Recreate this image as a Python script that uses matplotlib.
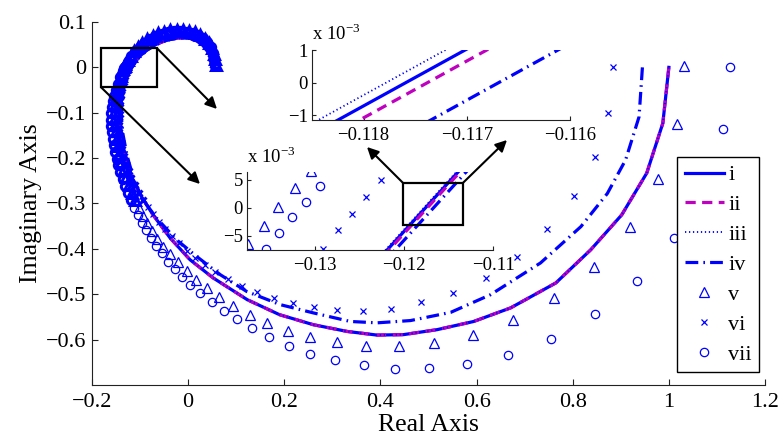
import matplotlib
matplotlib.use('Agg')
import matplotlib.pyplot as plt
from matplotlib.patches import Rectangle

plt.rcParams['font.family'] = ['Liberation Serif', 'DejaVu Serif']
plt.rcParams['mathtext.fontset'] = 'custom'
plt.rcParams['mathtext.rm'] = 'Liberation Serif'
plt.rcParams['axes.unicode_minus'] = True

BLUE = '#0000FF'
MAG = '#C000C0'

labels = ['i', 'ii', 'iii', 'iv', 'v', 'vi', 'vii']

# ---------------- data ----------------
i_x = [1.000, 0.9875, 0.954, 0.902, 0.8375, 0.765, 0.671, 0.594, 0.518, 0.448, 0.393, 0.331, 0.260, 0.190,
       0.123, 0.052, 0.004, -0.0375, -0.073, -0.100, -0.118, -0.133, -0.140, -0.145, -0.138, -0.130,
       -0.12217, -0.11759, -0.11358, -0.103, -0.088, -0.068, -0.045, -0.020, 0.004, 0.024, 0.039, 0.047, 0.049]
i_y = [0.000, -0.123, -0.233, -0.325, -0.402, -0.475, -0.530, -0.560, -0.578, -0.589, -0.590, -0.582, -0.567, -0.545,
       -0.512, -0.464, -0.424, -0.376, -0.325, -0.280, -0.240, -0.185, -0.140, -0.095, -0.050, -0.028,
       -0.008, 0.000, 0.007, 0.022, 0.037, 0.050, 0.060, 0.065, 0.064, 0.056, 0.040, 0.021, 0.002]

ii_x = [1.000, 0.9875, 0.954, 0.902, 0.8375, 0.765, 0.671, 0.594, 0.518, 0.448, 0.393, 0.331, 0.260, 0.190,
        0.123, 0.052, 0.004, -0.0375, -0.073, -0.100, -0.118, -0.133, -0.140, -0.145, -0.138, -0.130,
        -0.12196, -0.11738, -0.11337, -0.103, -0.088, -0.068, -0.045, -0.020, 0.004, 0.024, 0.039, 0.047, 0.049]
ii_y = i_y

iii_x = [1.000, 0.9875, 0.954, 0.902, 0.8375, 0.765, 0.671, 0.594, 0.518, 0.448, 0.393, 0.331, 0.260, 0.190,
         0.123, 0.052, 0.004, -0.0375, -0.073, -0.100, -0.118, -0.133, -0.140, -0.145, -0.138, -0.130,
         -0.12236, -0.11778, -0.11377, -0.103, -0.088, -0.068, -0.045, -0.020, 0.004, 0.024, 0.039, 0.047, 0.049]
iii_y = i_y

iv_x = [0.945, 0.938, 0.910, 0.872, 0.817, 0.733, 0.629, 0.546, 0.4625, 0.393, 0.3375, 0.260, 0.192, 0.122,
        0.067, 0.018, -0.024, -0.065, -0.094, -0.112, -0.127, -0.136, -0.140, -0.135, -0.128,
        -0.12127, -0.11669, -0.11268, -0.102, -0.087, -0.067, -0.044, -0.019, 0.005, 0.025, 0.040, 0.048, 0.050]
iv_y = [0.000, -0.109, -0.204, -0.278, -0.351, -0.431, -0.501, -0.540, -0.558, -0.563, -0.560, -0.541, -0.523, -0.494,
        -0.457, -0.417, -0.380, -0.333, -0.292, -0.250, -0.195, -0.145, -0.095, -0.050, -0.027,
        -0.008, 0.000, 0.007, 0.022, 0.037, 0.050, 0.060, 0.065, 0.064, 0.056, 0.040, 0.021, 0.002]

v_pts = [(1.032, 0.004), (1.017, -0.124), (0.978, -0.245), (0.919, -0.351), (0.844, -0.439), (0.761, -0.508),
         (0.676, -0.556), (0.592, -0.589), (0.511, -0.607), (0.438, -0.615), (0.369, -0.615), (0.310, -0.606),
         (0.254, -0.594), (0.208, -0.580), (0.164, -0.564), (0.128, -0.545), (0.094, -0.525), (0.065, -0.506),
         (0.039, -0.486), (0.017, -0.468), (-0.003, -0.448), (-0.022, -0.430),
         (-0.038, -0.412), (-0.052, -0.395), (-0.064, -0.378), (-0.075, -0.361), (-0.085, -0.344), (-0.094, -0.327),
         (-0.102, -0.310), (-0.110, -0.293), (-0.117, -0.276), (-0.123, -0.259), (-0.129, -0.242), (-0.134, -0.225),
         (-0.139, -0.208), (-0.143, -0.191), (-0.146, -0.174), (-0.149, -0.157), (-0.151, -0.141), (-0.152, -0.126),
         (-0.153, -0.111), (-0.153, -0.096), (-0.152, -0.082), (-0.151, -0.068), (-0.149, -0.055), (-0.146, -0.042),
         (-0.143, -0.030), (-0.140, -0.018), (-0.1375, -0.0064), (-0.1357, -0.0032), (-0.1341, 0.0002),
         (-0.1322, 0.0035), (-0.1304, 0.0065), (-0.125, 0.016), (-0.119, 0.026), (-0.112, 0.036), (-0.104, 0.045),
         (-0.095, 0.054), (-0.085, 0.062), (-0.074, 0.069), (-0.062, 0.075), (-0.050, 0.079), (-0.037, 0.082),
         (-0.024, 0.083), (-0.011, 0.083), (0.002, 0.081), (0.014, 0.077), (0.025, 0.071), (0.035, 0.063),
         (0.043, 0.053), (0.049, 0.042), (0.053, 0.030), (0.056, 0.018), (0.057, 0.006)]

vi_pts = [(0.883, 0.000), (0.874, -0.100), (0.846, -0.197), (0.803, -0.283), (0.747, -0.357), (0.685, -0.417),
          (0.619, -0.464), (0.551, -0.497), (0.485, -0.518), (0.423, -0.532), (0.364, -0.536), (0.310, -0.534),
          (0.261, -0.528), (0.218, -0.519), (0.178, -0.509), (0.143, -0.495), (0.112, -0.481), (0.083, -0.467),
          (0.056, -0.452), (0.035, -0.435), (0.015, -0.420), (-0.003, -0.404),
          (-0.019, -0.388), (-0.034, -0.372), (-0.048, -0.356), (-0.061, -0.340), (-0.073, -0.324), (-0.084, -0.308),
          (-0.094, -0.292), (-0.103, -0.276), (-0.111, -0.260), (-0.118, -0.244), (-0.124, -0.228), (-0.129, -0.212),
          (-0.133, -0.196), (-0.137, -0.180), (-0.140, -0.164), (-0.142, -0.148), (-0.143, -0.133), (-0.143, -0.118),
          (-0.142, -0.103), (-0.142, -0.088), (-0.141, -0.074), (-0.139, -0.060), (-0.137, -0.046), (-0.134, -0.032),
          (-0.131, -0.018), (-0.1291, -0.00725), (-0.1274, -0.0040), (-0.1258, -0.0010), (-0.1242, 0.0020),
          (-0.1226, 0.0049), (-0.117, 0.015), (-0.109, 0.027), (-0.099, 0.038), (-0.087, 0.048), (-0.074, 0.056),
          (-0.060, 0.063), (-0.045, 0.068), (-0.030, 0.071), (-0.015, 0.072), (0.000, 0.071), (0.013, 0.067),
          (0.025, 0.061), (0.035, 0.052), (0.042, 0.042), (0.047, 0.030), (0.050, 0.018), (0.051, 0.006)]

vii_pts = [(1.128, 0.000), (1.113, -0.136), (1.070, -0.258), (1.011, -0.376), (0.933, -0.470), (0.846, -0.544),
           (0.754, -0.598), (0.666, -0.633), (0.581, -0.653), (0.502, -0.662), (0.430, -0.664), (0.365, -0.657),
           (0.306, -0.646), (0.254, -0.631), (0.209, -0.613), (0.169, -0.594), (0.133, -0.574), (0.101, -0.555),
           (0.074, -0.536), (0.049, -0.516), (0.025, -0.497), (0.004, -0.479), (-0.013, -0.461), (-0.027, -0.445),
           (-0.041, -0.428), (-0.055, -0.410),
           (-0.067, -0.393), (-0.078, -0.376), (-0.088, -0.359), (-0.097, -0.342), (-0.105, -0.325), (-0.112, -0.309),
           (-0.119, -0.293), (-0.125, -0.277), (-0.131, -0.261), (-0.136, -0.246), (-0.141, -0.231), (-0.145, -0.216),
           (-0.149, -0.201), (-0.152, -0.186), (-0.155, -0.171), (-0.157, -0.157), (-0.159, -0.143), (-0.160, -0.129),
           (-0.160, -0.115), (-0.160, -0.101), (-0.159, -0.088), (-0.157, -0.075), (-0.154, -0.062), (-0.150, -0.049),
           (-0.146, -0.036), (-0.141, -0.022), (-0.1355, -0.0074), (-0.1340, -0.0044), (-0.1325, -0.0017),
           (-0.1310, 0.0011), (-0.1294, 0.0039), (-0.125, 0.012), (-0.118, 0.024), (-0.110, 0.035), (-0.101, 0.045),
           (-0.091, 0.054), (-0.080, 0.062), (-0.068, 0.069), (-0.055, 0.074), (-0.042, 0.078), (-0.029, 0.080),
           (-0.016, 0.080), (-0.003, 0.079), (0.010, 0.076), (0.021, 0.071), (0.031, 0.064), (0.040, 0.055),
           (0.047, 0.044), (0.051, 0.032), (0.054, 0.020), (0.055, 0.008)]

v_x, v_y = zip(*v_pts)
vi_x, vi_y = zip(*vi_pts)
vii_x, vii_y = zip(*vii_pts)

# index from which markers crowd into a solid band (main view only)
v_dense, vi_dense, vii_dense = 29, 28, 32

main_xticks = [-0.2, 0.0, 0.2, 0.4, 0.6, 0.8, 1.0, 1.2]
main_xticklabels = ['\u22120.2', '0', '0.2', '0.4', '0.6', '0.8', '1', '1.2']
main_yticks = [-0.6, -0.5, -0.4, -0.3, -0.2, -0.1, 0.0, 0.1]
main_yticklabels = ['\u22120.6', '\u22120.5', '\u22120.4', '\u22120.3', '\u22120.2', '\u22120.1', '0', '0.1']

in1_xticks = [-0.118, -0.117, -0.116]
in1_xticklabels = ['\u22120.118', '\u22120.117', '\u22120.116']
in1_yticks = [-1e-3, 0.0, 1e-3]
in1_yticklabels = ['\u22121', '0', '1']

in2_xticks = [-0.13, -0.12, -0.11]
in2_xticklabels = ['\u22120.13', '\u22120.12', '\u22120.11']
in2_yticks = [-5e-3, 0.0, 5e-3]
in2_yticklabels = ['\u22125', '0', '5']

# ---------------- figure ----------------
fig = plt.figure(figsize=(7.83, 4.40), dpi=100)
ax = fig.add_axes([0.1175, 0.125, 0.8595, 0.825])

MK = dict(ls='none', mec=BLUE, mew=0.9)


def draw_series(a, crowd=False):
    h = []
    h += a.plot(i_x, i_y, '-', color=BLUE, lw=2.3)
    h += a.plot(ii_x, ii_y, '--', color=MAG, lw=2.3, dashes=(3.2, 2.0))
    h += a.plot(iii_x, iii_y, ':', color=BLUE, lw=1.3, dashes=(0.7, 1.5))
    h += a.plot(iv_x, iv_y, color=BLUE, lw=2.3, dashes=(4.0, 1.6, 0.5, 1.6))
    if crowd:
        h += a.plot(v_x[:v_dense], v_y[:v_dense], '^', mfc='none', ms=6.5, **MK)
        h += a.plot(vi_x[:vi_dense], vi_y[:vi_dense], 'x', ms=4.5, **MK)
        h += a.plot(vii_x[:vii_dense], vii_y[:vii_dense], 'o', mfc='none', ms=6.0, **MK)
        # crowded part: hundreds of overlapping markers merge into a solid band
        a.plot(v_x[v_dense:], v_y[v_dense:], '^', ls='none', mfc='none', mec=BLUE, mew=2.2, ms=6.5)
        a.plot(vi_x[vi_dense:], vi_y[vi_dense:], 'x', ls='none', mec=BLUE, mew=2.2, ms=5.0)
        a.plot(vii_x[vii_dense:], vii_y[vii_dense:], 'o', ls='none', mfc='none', mec=BLUE, mew=2.2, ms=6.0)
    else:
        h += a.plot(v_x, v_y, '^', mfc='none', ms=6.5, **MK)
        h += a.plot(vi_x, vi_y, 'x', ms=4.5, **MK)
        h += a.plot(vii_x, vii_y, 'o', mfc='none', ms=6.0, **MK)
    return h


def style_axes(a, fs, ticklen):
    for s in ['top', 'right']:
        a.spines[s].set_visible(False)
    for s in ['left', 'bottom']:
        a.spines[s].set_linewidth(0.8)
        a.spines[s].set_color('#222222')
    a.tick_params(direction='in', length=ticklen, width=0.8, labelsize=fs, colors='#222222',
                  labelcolor='black')


handles = draw_series(ax, crowd=True)
ax.set_xlim(-0.2, 1.2)
ax.set_ylim(-0.7, 0.1)
ax.set_xticks(main_xticks)
ax.set_xticklabels(main_xticklabels)
ax.set_yticks(main_yticks)
ax.set_yticklabels(main_yticklabels)
style_axes(ax, 16, 4.5)
ax.tick_params(axis='x', pad=6)
ax.tick_params(axis='y', pad=4)
ax.set_xlabel('Real Axis', fontsize=18.5, labelpad=1)
ax.set_ylabel('Imaginary Axis', fontsize=18.5, labelpad=3)

# zoom box + arrows in main axes
ax.add_patch(Rectangle((-0.181, -0.044), 0.1164, 0.086, fill=False, ec='black', lw=1.6, zorder=5))
arrow_kw = dict(arrowstyle='-|>', color='black', lw=1.5, mutation_scale=17, shrinkA=0, shrinkB=0)
ax.annotate('', xy=(0.2771, 0.7523), xycoords='figure fraction', xytext=(-0.0646, 0.042),
            textcoords='data', arrowprops=arrow_kw, zorder=6)
ax.annotate('', xy=(0.2554, 0.5818), xycoords='figure fraction', xytext=(-0.181, -0.044),
            textcoords='data', arrowprops=arrow_kw, zorder=6)

leg = ax.legend(handles, labels, loc='upper left', bbox_to_anchor=(0.8646, 0.6432),
                bbox_transform=fig.transFigure, fontsize=16, frameon=True, fancybox=False,
                edgecolor='black', framealpha=1.0, handlelength=1.75, handletextpad=0.2,
                labelspacing=0.42, borderpad=0.35, borderaxespad=0, numpoints=1)
leg.get_frame().set_linewidth(1.0)
leg.set_zorder(10)

# ---------------- inset 1 ----------------
ax1 = fig.add_axes([0.3985, 0.7273, 0.3295, 0.159])
ax1.set_facecolor('white')
draw_series(ax1)
ax1.set_xlim(-0.1185, -0.116)
ax1.set_ylim(-1.15e-3, 1e-3)
ax1.set_xticks(in1_xticks)
ax1.set_xticklabels(in1_xticklabels)
ax1.set_yticks(in1_yticks)
ax1.set_yticklabels(in1_yticklabels)
style_axes(ax1, 13.5, 3)
ax1.tick_params(axis='x', pad=5)
ax1.tick_params(axis='y', pad=3)
ax1.text(0.0, 1.08, r'x 10$^{-3}$', transform=ax1.transAxes, fontsize=13.5, ha='left', va='bottom')

# ---------------- inset 2 ----------------
ax2 = fig.add_axes([0.3155, 0.4318, 0.3142, 0.1773])
ax2.set_facecolor('white')
draw_series(ax2)
ax2.set_xlim(-0.1376, -0.11)
ax2.set_ylim(-7.5e-3, 6.4e-3)
ax2.set_xticks(in2_xticks)
ax2.set_xticklabels(in2_xticklabels)
ax2.set_yticks(in2_yticks)
ax2.set_yticklabels(in2_yticklabels)
style_axes(ax2, 13.5, 3)
ax2.tick_params(axis='x', pad=5)
ax2.tick_params(axis='y', pad=3)
ax2.text(0.0, 1.07, r'x 10$^{-3}$', transform=ax2.transAxes, fontsize=13.5, ha='left', va='bottom')

ax2.add_patch(Rectangle((-0.12011, -0.003), 0.00674, 0.00747, fill=False, ec='black', lw=1.6, zorder=5))
ax2.annotate('', xy=(0.4687, 0.6659), xycoords='figure fraction', xytext=(-0.12011, 0.00447),
             textcoords='data', arrowprops=arrow_kw, zorder=6, annotation_clip=False)
ax2.annotate('', xy=(0.6475, 0.6818), xycoords='figure fraction', xytext=(-0.11337, 0.00447),
             textcoords='data', arrowprops=arrow_kw, zorder=6, annotation_clip=False)

fig.savefig('out.png', dpi=100)
